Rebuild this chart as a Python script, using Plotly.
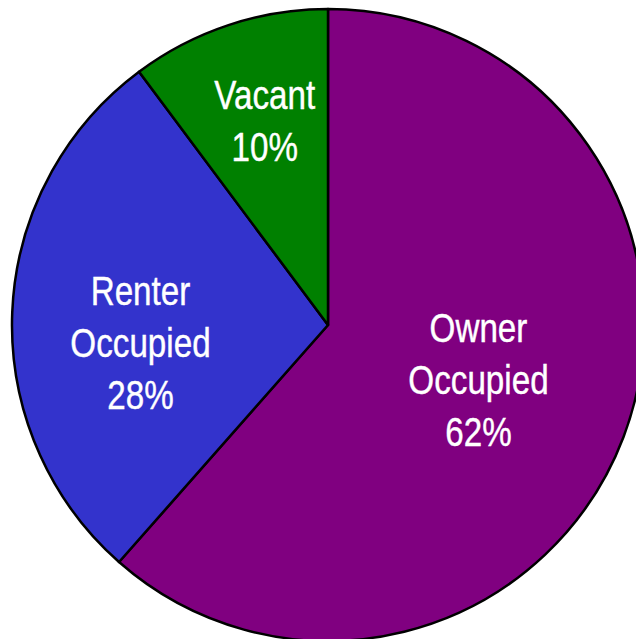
import math
import plotly.graph_objects as go

categories = ["Owner<br>Occupied", "Renter<br>Occupied", "Vacant"]
values = [61.5, 28.3, 10.2]
colors = ["#800080", "#3333CC", "#008000"]

# label placement style (radial fraction of radius, angular nudge in degrees)
label_radius = [0.506, 0.597, 0.676]
label_angle_nudge = [-0.6, -7.7, 1.2]

W, H = 660, 641
ML, MR, MT, MB = 12, 16, 9, 0
plot_w = W - ML - MR
plot_h = H - MT - MB
R_px = min(plot_w, plot_h) / 2

fig = go.Figure(go.Pie(
    labels=categories,
    values=values,
    sort=False,
    direction="clockwise",
    rotation=0,
    marker=dict(colors=colors, line=dict(color="black", width=2.5)),
    textinfo="none",
    showlegend=False,
    hoverinfo="skip",
))

total = sum(values)
cum = 0.0
for i, (lab, v) in enumerate(zip(categories, values)):
    mid = (cum + v / 2) / total * 360 + label_angle_nudge[i]
    cum += v
    d = label_radius[i] * R_px
    x = 0.5 + d * math.sin(math.radians(mid)) / plot_w
    y = 0.5 + d * math.cos(math.radians(mid)) / plot_h
    pct = round(v / total * 100)
    fig.add_annotation(
        x=x, y=y, xref="paper", yref="paper",
        text=f"{lab}<br>{pct}%",
        showarrow=False, xanchor="center", yanchor="middle",
        font=dict(family="Liberation Sans, Arial, sans-serif", size=40, color="white"),
        align="center",
    )

fig.update_layout(
    width=W,
    height=H,
    margin=dict(l=ML, r=MR, t=MT, b=MB),
    paper_bgcolor="white",
    plot_bgcolor="white",
    showlegend=False,
)

post = """
var gd = document.getElementById('{plot_id}');
function narrow(){
  document.body.style.margin='0';
  document.body.style.overflow='hidden';
  document.documentElement.style.overflow='hidden';
  var ts = gd.querySelectorAll('.annotation-text');
  ts.forEach(function(t){
    t.style.transformBox='fill-box';
    t.style.transformOrigin='center';
    t.style.transform='scaleX(0.83)';
    t.style.stroke='white';
    t.style.strokeWidth='0.4px';
  });
}
narrow();
if (gd.on) gd.on('plotly_afterplot', narrow);
setTimeout(narrow, 50);
"""

fig.write_html("out.html", config={"displayModeBar": False}, post_script=post)
